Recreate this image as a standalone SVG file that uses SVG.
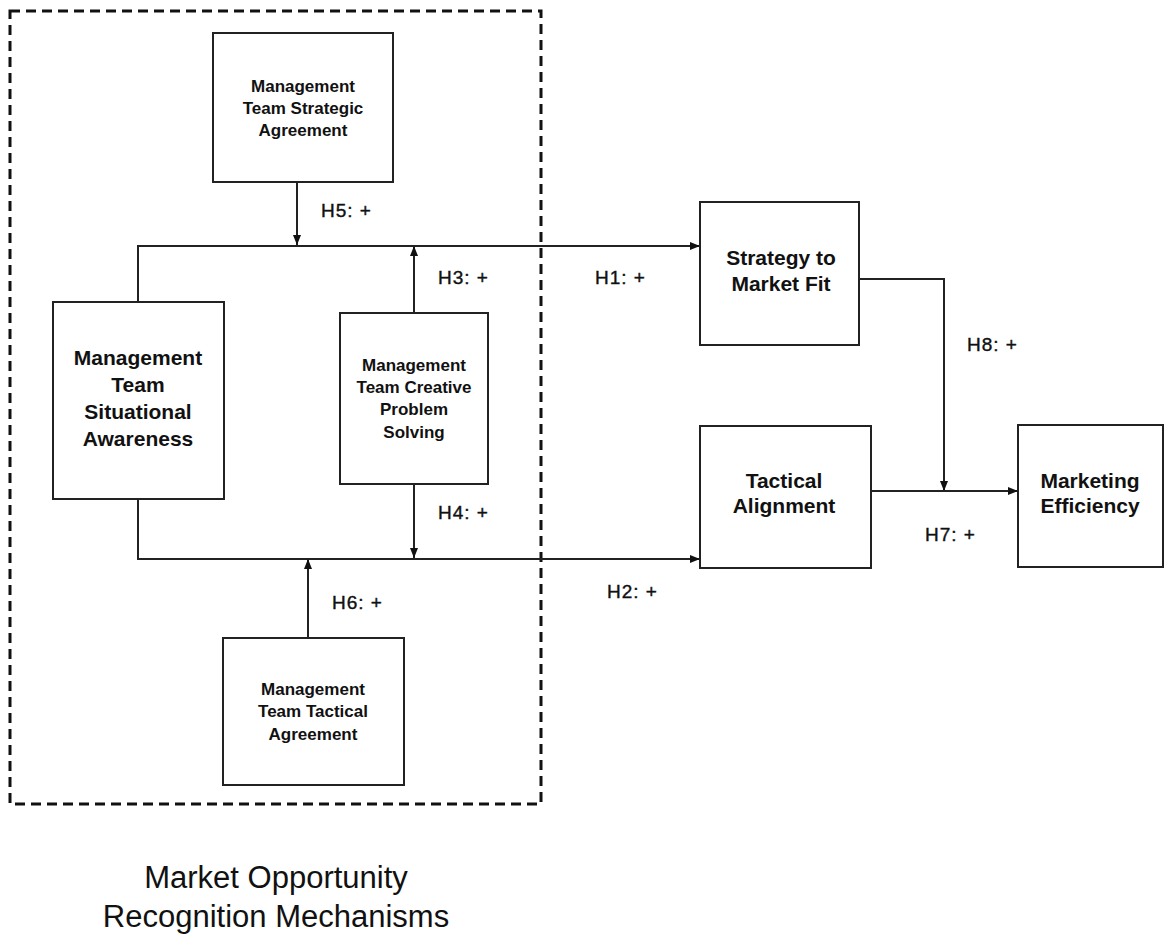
<svg xmlns="http://www.w3.org/2000/svg" width="1164" height="939" viewBox="0 0 1164 939">
<defs>
<marker id="ah" markerUnits="userSpaceOnUse" markerWidth="10" markerHeight="10" viewBox="0 0 10 10" refX="10" refY="5" orient="auto">
<path d="M0,1 L10,5 L0,9 Z" fill="#111"/>
</marker>
<style>
.box{fill:#fff;stroke:#222;stroke-width:2}
.ln{fill:none;stroke:#222;stroke-width:2}
.sm{font-family:"Liberation Sans",Arial,sans-serif;font-weight:bold;font-size:17px;fill:#111;text-anchor:middle}
.bg{font-family:"Liberation Sans",Arial,sans-serif;font-weight:bold;font-size:21px;fill:#111;text-anchor:middle}
.hl{font-family:"Liberation Sans",Arial,sans-serif;font-size:19px;letter-spacing:1px;fill:#111;stroke:#111;stroke-width:0.4}
.tt{font-family:"Liberation Sans",Arial,sans-serif;font-size:31px;fill:#111;text-anchor:middle}
</style>
</defs>
<rect width="1164" height="939" fill="#fff"/>
<rect id="frame" x="10" y="11" width="531" height="793" fill="none" stroke="#111" stroke-width="3" stroke-dasharray="10 6"/>
<g id="connectors">
<path class="ln" d="M297,182 V245" marker-end="url(#ah)"/>
<path class="ln" d="M138,302 V246 H700" marker-end="url(#ah)"/>
<path class="ln" d="M414,313 V246" marker-end="url(#ah)"/>
<path class="ln" d="M414,484 V558" marker-end="url(#ah)"/>
<path class="ln" d="M138,499 V559 H700" marker-end="url(#ah)"/>
<path class="ln" d="M308,638 V559" marker-end="url(#ah)"/>
<path class="ln" d="M859,279 H944 V491" marker-end="url(#ah)"/>
<path class="ln" d="M871,491 H1018" marker-end="url(#ah)"/>
</g>
<g id="labels">
<text class="hl" x="321" y="217">H5: +</text>
<text class="hl" x="438" y="284">H3: +</text>
<text class="hl" x="438" y="519">H4: +</text>
<text class="hl" x="332" y="609">H6: +</text>
<text class="hl" x="595" y="284">H1: +</text>
<text class="hl" x="607" y="598">H2: +</text>
<text class="hl" x="967" y="351">H8: +</text>
<text class="hl" x="925" y="541">H7: +</text>
</g>
<g id="strategic">
<rect class="box" x="213" y="33" width="180" height="149"/>
<text class="sm" x="303" y="92">Management</text>
<text class="sm" x="303" y="114">Team Strategic</text>
<text class="sm" x="303" y="136">Agreement</text>
</g>
<g id="situational">
<rect class="box" x="53" y="302" width="171" height="197"/>
<text class="bg" x="138" y="365">Management</text>
<text class="bg" x="138" y="392">Team</text>
<text class="bg" x="138" y="419">Situational</text>
<text class="bg" x="138" y="446">Awareness</text>
</g>
<g id="creative">
<rect class="box" x="340" y="313" width="148" height="171"/>
<text class="sm" x="414" y="371">Management</text>
<text class="sm" x="414" y="393">Team Creative</text>
<text class="sm" x="414" y="415">Problem</text>
<text class="sm" x="414" y="438">Solving</text>
</g>
<g id="tactical-agreement">
<rect class="box" x="223" y="638" width="181" height="147"/>
<text class="sm" x="313" y="695">Management</text>
<text class="sm" x="313" y="717">Team Tactical</text>
<text class="sm" x="313" y="740">Agreement</text>
</g>
<g id="strategy-fit">
<rect class="box" x="700" y="202" width="159" height="143"/>
<text class="bg" x="781" y="265">Strategy to</text>
<text class="bg" x="781" y="291">Market Fit</text>
</g>
<g id="tactical-alignment">
<rect class="box" x="700" y="426" width="171" height="142"/>
<text class="bg" x="784" y="488">Tactical</text>
<text class="bg" x="784" y="513">Alignment</text>
</g>
<g id="efficiency">
<rect class="box" x="1018" y="425" width="145" height="142"/>
<text class="bg" x="1090" y="488">Marketing</text>
<text class="bg" x="1090" y="513">Efficiency</text>
</g>
<g id="title">
<text class="tt" x="276" y="888">Market Opportunity</text>
<text class="tt" x="276" y="927">Recognition Mechanisms</text>
</g>
</svg>
